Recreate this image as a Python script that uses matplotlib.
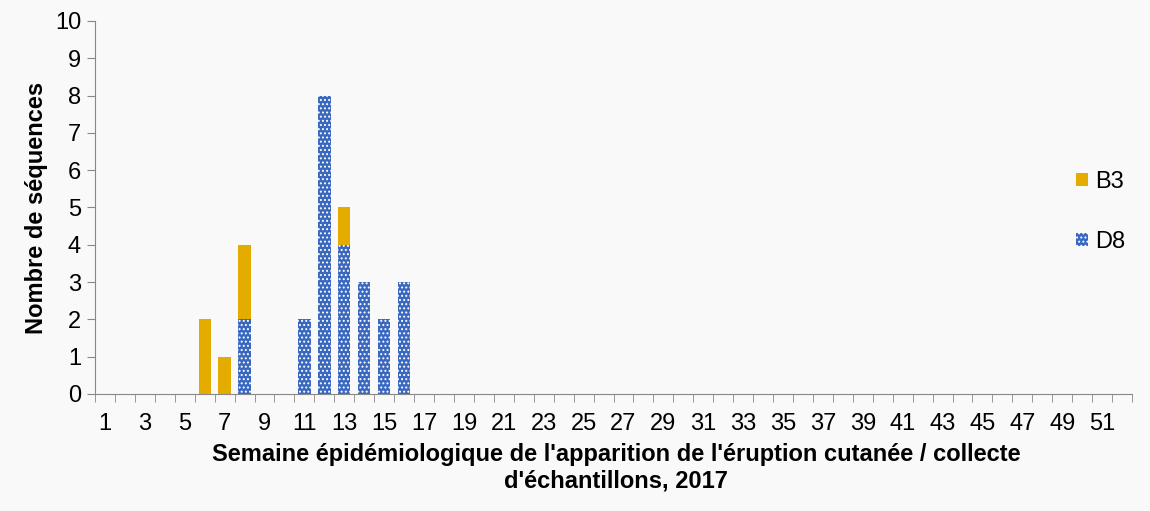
import matplotlib
matplotlib.use("Agg")
import matplotlib.pyplot as plt
import numpy as np
from matplotlib.patches import Patch

plt.rcParams['font.family'] = ['Liberation Sans', 'DejaVu Sans']
plt.rcParams['hatch.linewidth'] = 0.9

weeks = list(range(1, 53))
b3_vals = {6: 2, 7: 1, 8: 2, 13: 1}
d8_vals = {8: 2, 11: 2, 12: 8, 13: 4, 14: 3, 15: 2, 16: 3}
B3 = [b3_vals.get(w, 0) for w in weeks]
D8 = [d8_vals.get(w, 0) for w in weeks]
tick_labels = [str(w) if w % 2 == 1 else "" for w in weeks]

bg = '#f9f9f9'
yellow = '#E5AC00'
blue = '#3A68BF'

fig = plt.figure(figsize=(11.5, 5.11), dpi=100, facecolor=bg)
ax = fig.add_axes([95/1150, 1-394/511, (1132-95)/1150, (394-21)/511])
ax.set_facecolor(bg)

x = np.arange(len(weeks))
ax.bar(x, D8, width=0.62, color=blue, edgecolor='white', linewidth=0, hatch='....', label='D8')
ax.bar(x, B3, width=0.62, bottom=D8, color=yellow, linewidth=0, label='B3')

ax.set_xlim(-0.5, len(weeks) - 0.5)
ax.set_ylim(0, 10)
ax.set_yticks(range(0, 11))
ax.tick_params(axis='y', labelsize=17, length=6, color='#888888', pad=4)
ax.set_xticks(x)
ax.set_xticklabels(tick_labels)
ax.set_xticks(np.arange(-0.5, len(weeks) + 0.5, 1), minor=True)
ax.tick_params(axis='x', which='major', length=0, labelsize=17, pad=14)
ax.tick_params(axis='x', which='minor', length=6, color='#888888')

for s in ['top', 'right']:
    ax.spines[s].set_visible(False)
for s in ['left', 'bottom']:
    ax.spines[s].set_color('#888888')

ax.set_ylabel("Nombre de séquences", fontsize=17, fontweight='bold', labelpad=5)
fig.text(616/1150, 1-468/511,
         "Semaine épidémiologique de l'apparition de l'éruption cutanée / collecte\nd'échantillons, 2017",
         fontsize=17, fontweight='bold', ha='center', va='center', linespacing=1.2)

handles = [Patch(facecolor=yellow, label='B3'),
           Patch(facecolor=blue, edgecolor='white', linewidth=0, hatch='....', label='D8')]
leg = fig.legend(handles=handles, loc='center left', bbox_to_anchor=(1076/1150, 1-212/511),
                 frameon=False, fontsize=17, handlelength=0.5, handleheight=0.5,
                 handletextpad=0.3, labelspacing=1.6, borderpad=0, borderaxespad=0)

fig.savefig('out.png', dpi=100, facecolor=bg)
